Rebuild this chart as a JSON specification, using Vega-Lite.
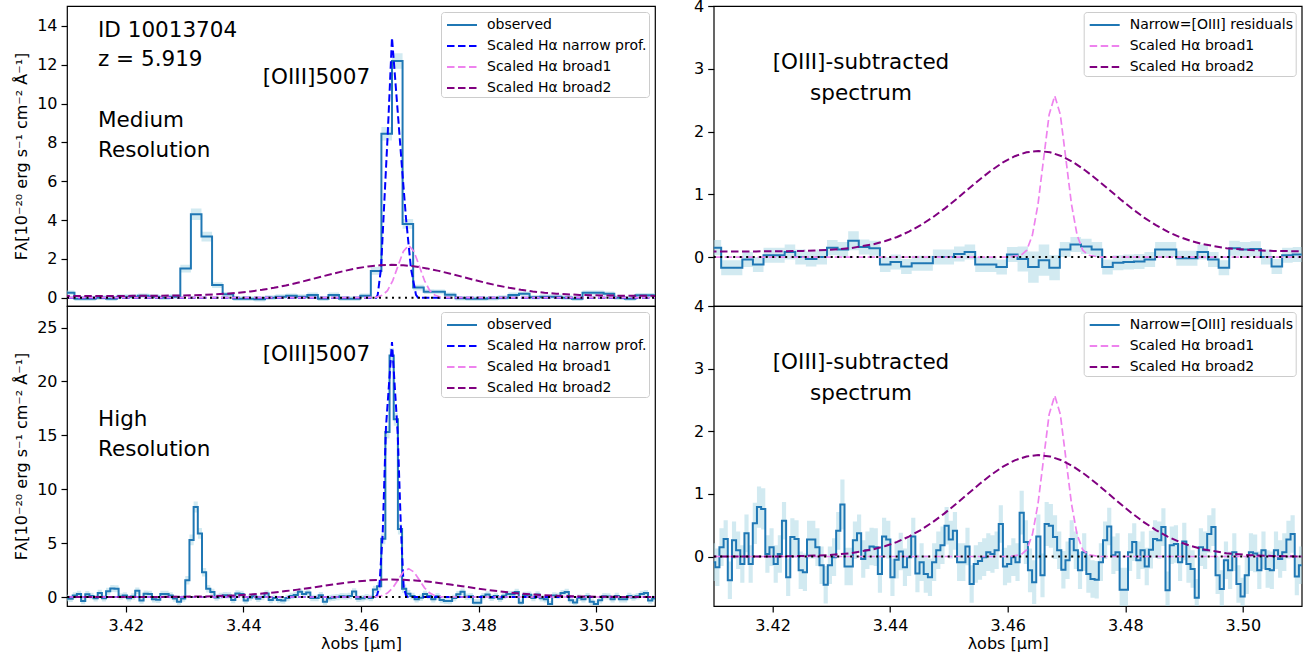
{
"$schema": "https://vega.github.io/schema/vega-lite/v6.json",
"background": "white",
"padding": {"left": 12, "top": -3, "right": 5, "bottom": 5},
"config": {
  "font": "DejaVu Sans",
  "view": {"stroke": "#000000", "strokeWidth": 1.2},
  "axis": {"domain": false, "grid": false, "labelFont": "DejaVu Sans", "labelFontSize": 16, "labelColor": "#000000", "tickColor": "#000000", "tickSize": 6, "tickWidth": 1.2, "titleFont": "DejaVu Sans", "titleFontSize": 16, "titleFontWeight": "normal", "titleColor": "#000000"},
  "axisY": {"labelPadding": 4},
  "axisX": {"labelPadding": 5, "titlePadding": 2},
  "legend": {"orient": "top-right", "offset": 6, "padding": 2, "rowPadding": 3, "labelFont": "DejaVu Sans", "labelFontSize": 14, "labelColor": "#000000", "labelLimit": 400, "fillColor": "rgba(255,255,255,0.8)", "strokeColor": "#cccccc", "cornerRadius": 3, "symbolSize": 400, "symbolStrokeWidth": 2, "symbolOffset": 8, "labelOffset": 14}
},
"datasets": {
"oM": [
{"lam":3.40857,"f":0.2,"lo":0.08,"hi":0.32},{"lam":3.41037,"f":0.25,"lo":0.13,"hi":0.37},{"lam":3.41217,"f":-0.05,"lo":-0.17,"hi":0.07},{"lam":3.41397,"f":-0.05,"lo":-0.17,"hi":0.07},{"lam":3.41577,"f":0,"lo":-0.12,"hi":0.12},{"lam":3.41757,"f":-0.05,"lo":-0.17,"hi":0.07},{"lam":3.41937,"f":0.05,"lo":-0.07,"hi":0.17},{"lam":3.42117,"f":0.05,"lo":-0.07,"hi":0.17},{"lam":3.42297,"f":0.1,"lo":-0.02,"hi":0.22},{"lam":3.42477,"f":0.05,"lo":-0.07,"hi":0.17},{"lam":3.42657,"f":0,"lo":-0.12,"hi":0.12},{"lam":3.42837,"f":0.05,"lo":-0.07,"hi":0.17},{"lam":3.43017,"f":1.5,"lo":1.3,"hi":1.7},{"lam":3.43197,"f":4.3,"lo":4.0,"hi":4.6},{"lam":3.43377,"f":3.15,"lo":2.9,"hi":3.4},{"lam":3.43557,"f":0.65,"lo":0.5,"hi":0.8},{"lam":3.43737,"f":0.17,"lo":0.05,"hi":0.29},{"lam":3.43917,"f":-0.05,"lo":-0.17,"hi":0.07},{"lam":3.44097,"f":-0.05,"lo":-0.17,"hi":0.07},{"lam":3.44277,"f":-0.08,"lo":-0.2,"hi":0.04},{"lam":3.44457,"f":0,"lo":-0.12,"hi":0.12},{"lam":3.44637,"f":0.05,"lo":-0.07,"hi":0.17},{"lam":3.44817,"f":0.1,"lo":-0.02,"hi":0.22},{"lam":3.44997,"f":0.05,"lo":-0.07,"hi":0.17},{"lam":3.45177,"f":0.14,"lo":0.02,"hi":0.26},{"lam":3.45357,"f":-0.05,"lo":-0.17,"hi":0.07},{"lam":3.45537,"f":0.14,"lo":0.02,"hi":0.26},{"lam":3.45717,"f":-0.05,"lo":-0.17,"hi":0.07},{"lam":3.45897,"f":-0.05,"lo":-0.17,"hi":0.07},{"lam":3.46077,"f":0.1,"lo":-0.02,"hi":0.22},{"lam":3.46257,"f":1.38,"lo":1.18,"hi":1.58},{"lam":3.46437,"f":8.45,"lo":8.1,"hi":8.8},{"lam":3.46617,"f":12.2,"lo":11.8,"hi":12.6},{"lam":3.46797,"f":3.8,"lo":3.55,"hi":4.05},{"lam":3.46977,"f":0.52,"lo":0.37,"hi":0.67},{"lam":3.47157,"f":0.31,"lo":0.19,"hi":0.43},{"lam":3.47337,"f":0.3,"lo":0.18,"hi":0.42},{"lam":3.47517,"f":0.15,"lo":0.03,"hi":0.27},{"lam":3.47697,"f":-0.03,"lo":-0.15,"hi":0.09},{"lam":3.47877,"f":-0.05,"lo":-0.17,"hi":0.07},{"lam":3.48057,"f":-0.05,"lo":-0.17,"hi":0.07},{"lam":3.48237,"f":-0.03,"lo":-0.15,"hi":0.09},{"lam":3.48417,"f":0,"lo":-0.12,"hi":0.12},{"lam":3.48597,"f":0.14,"lo":0.02,"hi":0.26},{"lam":3.48777,"f":0.2,"lo":0.08,"hi":0.32},{"lam":3.48957,"f":0.02,"lo":-0.1,"hi":0.14},{"lam":3.49137,"f":0.05,"lo":-0.07,"hi":0.17},{"lam":3.49317,"f":0.05,"lo":-0.07,"hi":0.17},{"lam":3.49497,"f":0,"lo":-0.12,"hi":0.12},{"lam":3.49677,"f":-0.05,"lo":-0.17,"hi":0.07},{"lam":3.49857,"f":0.25,"lo":0.13,"hi":0.37},{"lam":3.50037,"f":0.25,"lo":0.13,"hi":0.37},{"lam":3.50217,"f":0.2,"lo":0.08,"hi":0.32},{"lam":3.50397,"f":0,"lo":-0.12,"hi":0.12},{"lam":3.50577,"f":-0.05,"lo":-0.17,"hi":0.07},{"lam":3.50757,"f":0.12,"lo":0,"hi":0.24},{"lam":3.50937,"f":0.12,"lo":0,"hi":0.24},{"lam":3.51117,"f":0.12,"lo":0,"hi":0.24}
],
"rM": [
{"lam":3.40857,"f":0.15,"lo":0.03,"hi":0.27},{"lam":3.41037,"f":0.15,"lo":0.03,"hi":0.27},{"lam":3.41217,"f":-0.17,"lo":-0.29,"hi":-0.05},{"lam":3.41397,"f":-0.17,"lo":-0.29,"hi":-0.05},{"lam":3.41577,"f":-0.04,"lo":-0.16,"hi":0.08},{"lam":3.41757,"f":-0.12,"lo":-0.24,"hi":0},{"lam":3.41937,"f":0.03,"lo":-0.09,"hi":0.15},{"lam":3.42117,"f":0.03,"lo":-0.09,"hi":0.15},{"lam":3.42297,"f":0.08,"lo":-0.04,"hi":0.2},{"lam":3.42477,"f":0,"lo":-0.12,"hi":0.12},{"lam":3.42657,"f":-0.03,"lo":-0.15,"hi":0.09},{"lam":3.42837,"f":0,"lo":-0.12,"hi":0.12},{"lam":3.43017,"f":0.15,"lo":0.03,"hi":0.27},{"lam":3.43197,"f":0.12,"lo":0,"hi":0.24},{"lam":3.43377,"f":0.26,"lo":0.11,"hi":0.41},{"lam":3.43557,"f":0.16,"lo":0.04,"hi":0.28},{"lam":3.43737,"f":0.14,"lo":0.02,"hi":0.26},{"lam":3.43917,"f":-0.12,"lo":-0.24,"hi":0},{"lam":3.44097,"f":-0.08,"lo":-0.2,"hi":0.04},{"lam":3.44277,"f":-0.15,"lo":-0.27,"hi":-0.03},{"lam":3.44457,"f":-0.1,"lo":-0.22,"hi":0.02},{"lam":3.44637,"f":-0.1,"lo":-0.22,"hi":0.02},{"lam":3.44817,"f":0,"lo":-0.12,"hi":0.12},{"lam":3.44997,"f":0,"lo":-0.12,"hi":0.12},{"lam":3.45177,"f":0.05,"lo":-0.07,"hi":0.17},{"lam":3.45357,"f":0.08,"lo":-0.04,"hi":0.2},{"lam":3.45537,"f":-0.12,"lo":-0.24,"hi":0},{"lam":3.45717,"f":-0.12,"lo":-0.24,"hi":0},{"lam":3.45897,"f":-0.16,"lo":-0.28,"hi":-0.04},{"lam":3.46077,"f":0.04,"lo":-0.08,"hi":0.16},{"lam":3.46257,"f":-0.03,"lo":-0.23,"hi":0.17},{"lam":3.46437,"f":-0.16,"lo":-0.41,"hi":0.09},{"lam":3.46617,"f":-0.05,"lo":-0.3,"hi":0.2},{"lam":3.46797,"f":-0.17,"lo":-0.37,"hi":0.03},{"lam":3.46977,"f":0.12,"lo":0,"hi":0.24},{"lam":3.47157,"f":0.2,"lo":0.08,"hi":0.32},{"lam":3.47337,"f":0.17,"lo":0.05,"hi":0.29},{"lam":3.47517,"f":0.12,"lo":0,"hi":0.24},{"lam":3.47697,"f":-0.16,"lo":-0.28,"hi":-0.04},{"lam":3.47877,"f":-0.09,"lo":-0.21,"hi":0.03},{"lam":3.48057,"f":-0.08,"lo":-0.2,"hi":0.04},{"lam":3.48237,"f":-0.07,"lo":-0.19,"hi":0.05},{"lam":3.48417,"f":-0.04,"lo":-0.16,"hi":0.08},{"lam":3.48597,"f":0.12,"lo":0,"hi":0.24},{"lam":3.48777,"f":0.12,"lo":0,"hi":0.24},{"lam":3.48957,"f":-0.02,"lo":-0.14,"hi":0.1},{"lam":3.49137,"f":-0.02,"lo":-0.14,"hi":0.1},{"lam":3.49317,"f":0.08,"lo":-0.04,"hi":0.2},{"lam":3.49497,"f":-0.04,"lo":-0.16,"hi":0.08},{"lam":3.49677,"f":-0.17,"lo":-0.29,"hi":-0.05},{"lam":3.49857,"f":0.14,"lo":0.02,"hi":0.26},{"lam":3.50037,"f":0.12,"lo":0,"hi":0.24},{"lam":3.50217,"f":0.13,"lo":0.01,"hi":0.25},{"lam":3.50397,"f":0,"lo":-0.12,"hi":0.12},{"lam":3.50577,"f":-0.15,"lo":-0.27,"hi":-0.03},{"lam":3.50757,"f":0.03,"lo":-0.09,"hi":0.15},{"lam":3.50937,"f":0.04,"lo":-0.08,"hi":0.16},{"lam":3.51117,"f":0.04,"lo":-0.08,"hi":0.16}
],
"rH": [
{"lam":3.4092,"f":-0.09,"lo":-0.39,"hi":0.21},{"lam":3.40991,"f":-0.09,"lo":-0.39,"hi":0.21},{"lam":3.41062,"f":-0.17,"lo":-0.47,"hi":0.13},{"lam":3.41133,"f":0.15,"lo":-0.15,"hi":0.45},{"lam":3.41204,"f":0.28,"lo":-0.02,"hi":0.58},{"lam":3.41275,"f":-0.38,"lo":-0.68,"hi":-0.08},{"lam":3.41346,"f":0.26,"lo":-0.04,"hi":0.56},{"lam":3.41416,"f":0.1,"lo":-0.2,"hi":0.4},{"lam":3.41487,"f":-0.12,"lo":-0.42,"hi":0.18},{"lam":3.41558,"f":0.37,"lo":0.07,"hi":0.67},{"lam":3.41629,"f":-0.12,"lo":-0.42,"hi":0.18},{"lam":3.417,"f":0.53,"lo":0.2,"hi":0.86},{"lam":3.41771,"f":0.79,"lo":0.46,"hi":1.12},{"lam":3.41842,"f":0.76,"lo":0.43,"hi":1.09},{"lam":3.41913,"f":0.04,"lo":-0.26,"hi":0.34},{"lam":3.41984,"f":0.15,"lo":-0.15,"hi":0.45},{"lam":3.42055,"f":-0.12,"lo":-0.42,"hi":0.18},{"lam":3.42125,"f":0.04,"lo":-0.26,"hi":0.34},{"lam":3.42196,"f":0.57,"lo":0.27,"hi":0.87},{"lam":3.42267,"f":-0.33,"lo":-0.63,"hi":-0.03},{"lam":3.42338,"f":0.31,"lo":0.01,"hi":0.61},{"lam":3.42409,"f":0.28,"lo":-0.02,"hi":0.58},{"lam":3.4248,"f":-0.22,"lo":-0.52,"hi":0.08},{"lam":3.42551,"f":-0.25,"lo":-0.55,"hi":0.05},{"lam":3.42622,"f":0.27,"lo":-0.03,"hi":0.57},{"lam":3.42693,"f":0.27,"lo":-0.03,"hi":0.57},{"lam":3.42764,"f":0.15,"lo":-0.15,"hi":0.45},{"lam":3.42834,"f":-0.14,"lo":-0.44,"hi":0.16},{"lam":3.42905,"f":-0.45,"lo":-0.75,"hi":-0.15},{"lam":3.42976,"f":-0.14,"lo":-0.44,"hi":0.16},{"lam":3.43047,"f":-0.01,"lo":-0.31,"hi":0.29},{"lam":3.43118,"f":0.41,"lo":0.11,"hi":0.71},{"lam":3.43189,"f":0.83,"lo":0.43,"hi":1.23},{"lam":3.4326,"f":-0.16,"lo":-0.46,"hi":0.14},{"lam":3.43331,"f":-0.16,"lo":-0.46,"hi":0.14},{"lam":3.43402,"f":0.26,"lo":-0.04,"hi":0.56},{"lam":3.43473,"f":0.37,"lo":0.07,"hi":0.67},{"lam":3.43543,"f":-0.04,"lo":-0.34,"hi":0.26},{"lam":3.43614,"f":0.1,"lo":-0.2,"hi":0.4},{"lam":3.43685,"f":0.16,"lo":-0.14,"hi":0.46},{"lam":3.43756,"f":0.15,"lo":-0.15,"hi":0.45},{"lam":3.43827,"f":-0.28,"lo":-0.58,"hi":0.02},{"lam":3.43898,"f":0.32,"lo":0.02,"hi":0.62},{"lam":3.43969,"f":0.27,"lo":-0.03,"hi":0.57},{"lam":3.4404,"f":-0.33,"lo":-0.63,"hi":-0.03},{"lam":3.44111,"f":-0.05,"lo":-0.35,"hi":0.25},{"lam":3.44182,"f":0.08,"lo":-0.22,"hi":0.38},{"lam":3.44252,"f":-0.17,"lo":-0.47,"hi":0.13},{"lam":3.44323,"f":-0.01,"lo":-0.31,"hi":0.29},{"lam":3.44394,"f":0.32,"lo":0.02,"hi":0.62},{"lam":3.44465,"f":-0.27,"lo":-0.57,"hi":0.03},{"lam":3.44536,"f":-0.09,"lo":-0.39,"hi":0.21},{"lam":3.44607,"f":-0.28,"lo":-0.58,"hi":0.02},{"lam":3.44678,"f":-0.33,"lo":-0.63,"hi":-0.03},{"lam":3.44749,"f":-0.09,"lo":-0.39,"hi":0.21},{"lam":3.4482,"f":0.1,"lo":-0.2,"hi":0.4},{"lam":3.44891,"f":0.18,"lo":-0.12,"hi":0.48},{"lam":3.44961,"f":0.49,"lo":0.19,"hi":0.79},{"lam":3.45032,"f":0.27,"lo":-0.03,"hi":0.57},{"lam":3.45103,"f":0.41,"lo":0.11,"hi":0.71},{"lam":3.45174,"f":-0.09,"lo":-0.39,"hi":0.21},{"lam":3.45245,"f":-0.09,"lo":-0.39,"hi":0.21},{"lam":3.45316,"f":0.16,"lo":-0.14,"hi":0.46},{"lam":3.45387,"f":-0.44,"lo":-0.74,"hi":-0.14},{"lam":3.45458,"f":-0.12,"lo":-0.42,"hi":0.18},{"lam":3.45529,"f":-0.07,"lo":-0.37,"hi":0.23},{"lam":3.456,"f":-0.01,"lo":-0.31,"hi":0.29},{"lam":3.4567,"f":0.07,"lo":-0.23,"hi":0.37},{"lam":3.45741,"f":0.04,"lo":-0.26,"hi":0.34},{"lam":3.45812,"f":0.1,"lo":-0.2,"hi":0.4},{"lam":3.45883,"f":0.52,"lo":0.22,"hi":0.82},{"lam":3.45954,"f":-0.16,"lo":-0.46,"hi":0.14},{"lam":3.46025,"f":-0.12,"lo":-0.42,"hi":0.18},{"lam":3.46096,"f":-0.01,"lo":-0.31,"hi":0.29},{"lam":3.46167,"f":-0.09,"lo":-0.39,"hi":0.21},{"lam":3.46238,"f":0.7,"lo":0.35,"hi":1.05},{"lam":3.46309,"f":0.23,"lo":-0.12,"hi":0.58},{"lam":3.46379,"f":-0.22,"lo":-0.57,"hi":0.13},{"lam":3.4645,"f":-0.41,"lo":-0.76,"hi":-0.06},{"lam":3.46521,"f":0.32,"lo":-0.03,"hi":0.67},{"lam":3.46592,"f":-0.3,"lo":-0.65,"hi":0.05},{"lam":3.46663,"f":0.52,"lo":0.17,"hi":0.87},{"lam":3.46734,"f":0.49,"lo":0.14,"hi":0.84},{"lam":3.46805,"f":0.31,"lo":-0.04,"hi":0.66},{"lam":3.46876,"f":0.1,"lo":-0.2,"hi":0.4},{"lam":3.46947,"f":-0.21,"lo":-0.51,"hi":0.09},{"lam":3.47018,"f":-0.06,"lo":-0.36,"hi":0.24},{"lam":3.47088,"f":0.28,"lo":-0.02,"hi":0.58},{"lam":3.47159,"f":0.1,"lo":-0.2,"hi":0.4},{"lam":3.4723,"f":-0.22,"lo":-0.52,"hi":0.08},{"lam":3.47301,"f":0.07,"lo":-0.23,"hi":0.37},{"lam":3.47372,"f":-0.28,"lo":-0.58,"hi":0.02},{"lam":3.47443,"f":-0.36,"lo":-0.66,"hi":-0.06},{"lam":3.47514,"f":-0.37,"lo":-0.67,"hi":-0.07},{"lam":3.47585,"f":-0.09,"lo":-0.39,"hi":0.21},{"lam":3.47656,"f":0.26,"lo":-0.04,"hi":0.56},{"lam":3.47727,"f":0.48,"lo":0.18,"hi":0.78},{"lam":3.47797,"f":0.02,"lo":-0.28,"hi":0.32},{"lam":3.47868,"f":0.07,"lo":-0.23,"hi":0.37},{"lam":3.47939,"f":-0.53,"lo":-0.88,"hi":-0.18},{"lam":3.4801,"f":-0.53,"lo":-0.88,"hi":-0.18},{"lam":3.48081,"f":0.07,"lo":-0.23,"hi":0.37},{"lam":3.48152,"f":0.23,"lo":-0.07,"hi":0.53},{"lam":3.48223,"f":-0.06,"lo":-0.36,"hi":0.24},{"lam":3.48294,"f":0.1,"lo":-0.2,"hi":0.4},{"lam":3.48365,"f":-0.16,"lo":-0.46,"hi":0.14},{"lam":3.48436,"f":0.11,"lo":-0.19,"hi":0.41},{"lam":3.48506,"f":0.28,"lo":-0.02,"hi":0.58},{"lam":3.48577,"f":0.26,"lo":-0.04,"hi":0.56},{"lam":3.48648,"f":0.47,"lo":0.17,"hi":0.77},{"lam":3.48719,"f":-0.54,"lo":-0.84,"hi":-0.24},{"lam":3.4879,"f":0.18,"lo":-0.12,"hi":0.48},{"lam":3.48861,"f":0.2,"lo":-0.1,"hi":0.5},{"lam":3.48932,"f":-0.09,"lo":-0.39,"hi":0.21},{"lam":3.49003,"f":0.24,"lo":-0.06,"hi":0.54},{"lam":3.49074,"f":-0.12,"lo":-0.42,"hi":0.18},{"lam":3.49145,"f":-0.2,"lo":-0.5,"hi":0.1},{"lam":3.49215,"f":-0.66,"lo":-0.96,"hi":-0.36},{"lam":3.49286,"f":0.15,"lo":-0.15,"hi":0.45},{"lam":3.49357,"f":0.1,"lo":-0.2,"hi":0.4},{"lam":3.49428,"f":0.36,"lo":0.06,"hi":0.66},{"lam":3.49499,"f":0.47,"lo":0.17,"hi":0.77},{"lam":3.4957,"f":-0.3,"lo":-0.6,"hi":0},{"lam":3.49641,"f":-0.52,"lo":-0.82,"hi":-0.22},{"lam":3.49712,"f":-0.06,"lo":-0.36,"hi":0.24},{"lam":3.49783,"f":-0.22,"lo":-0.52,"hi":0.08},{"lam":3.49854,"f":0.07,"lo":-0.23,"hi":0.37},{"lam":3.49924,"f":-0.44,"lo":-0.74,"hi":-0.14},{"lam":3.49995,"f":-0.64,"lo":-0.94,"hi":-0.34},{"lam":3.50066,"f":-0.3,"lo":-0.6,"hi":0},{"lam":3.50137,"f":0.07,"lo":-0.23,"hi":0.37},{"lam":3.50208,"f":0.05,"lo":-0.25,"hi":0.35},{"lam":3.50279,"f":-0.22,"lo":-0.52,"hi":0.08},{"lam":3.5035,"f":0.1,"lo":-0.2,"hi":0.4},{"lam":3.50421,"f":-0.2,"lo":-0.5,"hi":0.1},{"lam":3.50492,"f":-0.22,"lo":-0.52,"hi":0.08},{"lam":3.50563,"f":0.1,"lo":-0.2,"hi":0.4},{"lam":3.50633,"f":-0.04,"lo":-0.34,"hi":0.26},{"lam":3.50704,"f":0.07,"lo":-0.23,"hi":0.37},{"lam":3.50775,"f":0.27,"lo":-0.03,"hi":0.57},{"lam":3.50846,"f":0.36,"lo":0.06,"hi":0.66},{"lam":3.50917,"f":-0.32,"lo":-0.62,"hi":-0.02},{"lam":3.50988,"f":-0.14,"lo":-0.44,"hi":0.16},{"lam":3.51059,"f":-0.14,"lo":-0.44,"hi":0.16}
],
"oH": [
{"lam":3.4092,"f":-0.09,"lo":-0.39,"hi":0.21},{"lam":3.40991,"f":-0.09,"lo":-0.39,"hi":0.21},{"lam":3.41062,"f":-0.17,"lo":-0.47,"hi":0.13},{"lam":3.41133,"f":0.15,"lo":-0.15,"hi":0.45},{"lam":3.41204,"f":0.28,"lo":-0.02,"hi":0.58},{"lam":3.41275,"f":-0.38,"lo":-0.68,"hi":-0.08},{"lam":3.41346,"f":0.26,"lo":-0.04,"hi":0.56},{"lam":3.41416,"f":0.1,"lo":-0.2,"hi":0.4},{"lam":3.41487,"f":-0.12,"lo":-0.42,"hi":0.18},{"lam":3.41558,"f":0.37,"lo":0.07,"hi":0.67},{"lam":3.41629,"f":-0.12,"lo":-0.42,"hi":0.18},{"lam":3.417,"f":0.53,"lo":0.2,"hi":0.86},{"lam":3.41771,"f":0.79,"lo":0.46,"hi":1.12},{"lam":3.41842,"f":0.76,"lo":0.43,"hi":1.09},{"lam":3.41913,"f":0.04,"lo":-0.26,"hi":0.34},{"lam":3.41984,"f":0.15,"lo":-0.15,"hi":0.45},{"lam":3.42055,"f":-0.12,"lo":-0.42,"hi":0.18},{"lam":3.42125,"f":0.04,"lo":-0.26,"hi":0.34},{"lam":3.42196,"f":0.57,"lo":0.27,"hi":0.87},{"lam":3.42267,"f":-0.33,"lo":-0.63,"hi":-0.03},{"lam":3.42338,"f":0.31,"lo":0.01,"hi":0.61},{"lam":3.42409,"f":0.28,"lo":-0.02,"hi":0.58},{"lam":3.4248,"f":-0.22,"lo":-0.52,"hi":0.08},{"lam":3.42551,"f":-0.25,"lo":-0.55,"hi":0.05},{"lam":3.42622,"f":0.27,"lo":-0.03,"hi":0.57},{"lam":3.42693,"f":0.27,"lo":-0.03,"hi":0.57},{"lam":3.42764,"f":0.15,"lo":-0.15,"hi":0.45},{"lam":3.42834,"f":-0.14,"lo":-0.44,"hi":0.16},{"lam":3.42905,"f":-0.45,"lo":-0.75,"hi":-0.15},{"lam":3.42976,"f":-0.14,"lo":-0.44,"hi":0.16},{"lam":3.43047,"f":1.55,"lo":1.15,"hi":1.95},{"lam":3.43118,"f":5.3,"lo":4.8,"hi":5.8},{"lam":3.43189,"f":8.35,"lo":7.85,"hi":8.85},{"lam":3.4326,"f":5.9,"lo":5.4,"hi":6.4},{"lam":3.43331,"f":2.3,"lo":1.9,"hi":2.7},{"lam":3.43402,"f":0.77,"lo":0.42,"hi":1.12},{"lam":3.43473,"f":0.46,"lo":0.16,"hi":0.76},{"lam":3.43543,"f":-0.04,"lo":-0.34,"hi":0.26},{"lam":3.43614,"f":0.1,"lo":-0.2,"hi":0.4},{"lam":3.43685,"f":0.16,"lo":-0.14,"hi":0.46},{"lam":3.43756,"f":0.15,"lo":-0.15,"hi":0.45},{"lam":3.43827,"f":-0.28,"lo":-0.58,"hi":0.02},{"lam":3.43898,"f":0.32,"lo":0.02,"hi":0.62},{"lam":3.43969,"f":0.27,"lo":-0.03,"hi":0.57},{"lam":3.4404,"f":-0.33,"lo":-0.63,"hi":-0.03},{"lam":3.44111,"f":-0.05,"lo":-0.35,"hi":0.25},{"lam":3.44182,"f":0.08,"lo":-0.22,"hi":0.38},{"lam":3.44252,"f":-0.17,"lo":-0.47,"hi":0.13},{"lam":3.44323,"f":-0.01,"lo":-0.31,"hi":0.29},{"lam":3.44394,"f":0.32,"lo":0.02,"hi":0.62},{"lam":3.44465,"f":-0.27,"lo":-0.57,"hi":0.03},{"lam":3.44536,"f":-0.09,"lo":-0.39,"hi":0.21},{"lam":3.44607,"f":-0.28,"lo":-0.58,"hi":0.02},{"lam":3.44678,"f":-0.33,"lo":-0.63,"hi":-0.03},{"lam":3.44749,"f":-0.09,"lo":-0.39,"hi":0.21},{"lam":3.4482,"f":0.1,"lo":-0.2,"hi":0.4},{"lam":3.44891,"f":0.18,"lo":-0.12,"hi":0.48},{"lam":3.44961,"f":0.49,"lo":0.19,"hi":0.79},{"lam":3.45032,"f":0.27,"lo":-0.03,"hi":0.57},{"lam":3.45103,"f":0.41,"lo":0.11,"hi":0.71},{"lam":3.45174,"f":-0.09,"lo":-0.39,"hi":0.21},{"lam":3.45245,"f":-0.09,"lo":-0.39,"hi":0.21},{"lam":3.45316,"f":0.16,"lo":-0.14,"hi":0.46},{"lam":3.45387,"f":-0.44,"lo":-0.74,"hi":-0.14},{"lam":3.45458,"f":-0.12,"lo":-0.42,"hi":0.18},{"lam":3.45529,"f":-0.07,"lo":-0.37,"hi":0.23},{"lam":3.456,"f":-0.01,"lo":-0.31,"hi":0.29},{"lam":3.4567,"f":0.07,"lo":-0.23,"hi":0.37},{"lam":3.45741,"f":0.04,"lo":-0.26,"hi":0.34},{"lam":3.45812,"f":0.1,"lo":-0.2,"hi":0.4},{"lam":3.45883,"f":0.52,"lo":0.22,"hi":0.82},{"lam":3.45954,"f":-0.16,"lo":-0.46,"hi":0.14},{"lam":3.46025,"f":-0.12,"lo":-0.42,"hi":0.18},{"lam":3.46096,"f":-0.01,"lo":-0.31,"hi":0.29},{"lam":3.46167,"f":-0.09,"lo":-0.39,"hi":0.21},{"lam":3.46238,"f":0.7,"lo":0.35,"hi":1.05},{"lam":3.46309,"f":1.0,"lo":0.6,"hi":1.4},{"lam":3.46379,"f":5.4,"lo":4.9,"hi":5.9},{"lam":3.4645,"f":15.3,"lo":14.7,"hi":15.9},{"lam":3.46521,"f":22.4,"lo":21.7,"hi":23.1},{"lam":3.46592,"f":16.5,"lo":15.9,"hi":17.1},{"lam":3.46663,"f":6.3,"lo":5.8,"hi":6.8},{"lam":3.46734,"f":0.77,"lo":0.37,"hi":1.17},{"lam":3.46805,"f":0.3,"lo":-0.05,"hi":0.65},{"lam":3.46876,"f":0.1,"lo":-0.2,"hi":0.4},{"lam":3.46947,"f":-0.21,"lo":-0.51,"hi":0.09},{"lam":3.47018,"f":-0.06,"lo":-0.36,"hi":0.24},{"lam":3.47088,"f":0.28,"lo":-0.02,"hi":0.58},{"lam":3.47159,"f":0.1,"lo":-0.2,"hi":0.4},{"lam":3.4723,"f":-0.22,"lo":-0.52,"hi":0.08},{"lam":3.47301,"f":0.07,"lo":-0.23,"hi":0.37},{"lam":3.47372,"f":-0.28,"lo":-0.58,"hi":0.02},{"lam":3.47443,"f":-0.36,"lo":-0.66,"hi":-0.06},{"lam":3.47514,"f":-0.37,"lo":-0.67,"hi":-0.07},{"lam":3.47585,"f":-0.09,"lo":-0.39,"hi":0.21},{"lam":3.47656,"f":0.26,"lo":-0.04,"hi":0.56},{"lam":3.47727,"f":0.48,"lo":0.18,"hi":0.78},{"lam":3.47797,"f":0.02,"lo":-0.28,"hi":0.32},{"lam":3.47868,"f":0.07,"lo":-0.23,"hi":0.37},{"lam":3.47939,"f":-0.53,"lo":-0.88,"hi":-0.18},{"lam":3.4801,"f":-0.53,"lo":-0.88,"hi":-0.18},{"lam":3.48081,"f":0.07,"lo":-0.23,"hi":0.37},{"lam":3.48152,"f":0.23,"lo":-0.07,"hi":0.53},{"lam":3.48223,"f":-0.06,"lo":-0.36,"hi":0.24},{"lam":3.48294,"f":0.1,"lo":-0.2,"hi":0.4},{"lam":3.48365,"f":-0.16,"lo":-0.46,"hi":0.14},{"lam":3.48436,"f":0.11,"lo":-0.19,"hi":0.41},{"lam":3.48506,"f":0.28,"lo":-0.02,"hi":0.58},{"lam":3.48577,"f":0.26,"lo":-0.04,"hi":0.56},{"lam":3.48648,"f":0.47,"lo":0.17,"hi":0.77},{"lam":3.48719,"f":-0.54,"lo":-0.84,"hi":-0.24},{"lam":3.4879,"f":0.18,"lo":-0.12,"hi":0.48},{"lam":3.48861,"f":0.2,"lo":-0.1,"hi":0.5},{"lam":3.48932,"f":-0.09,"lo":-0.39,"hi":0.21},{"lam":3.49003,"f":0.24,"lo":-0.06,"hi":0.54},{"lam":3.49074,"f":-0.12,"lo":-0.42,"hi":0.18},{"lam":3.49145,"f":-0.2,"lo":-0.5,"hi":0.1},{"lam":3.49215,"f":-0.66,"lo":-0.96,"hi":-0.36},{"lam":3.49286,"f":0.15,"lo":-0.15,"hi":0.45},{"lam":3.49357,"f":0.1,"lo":-0.2,"hi":0.4},{"lam":3.49428,"f":0.36,"lo":0.06,"hi":0.66},{"lam":3.49499,"f":0.47,"lo":0.17,"hi":0.77},{"lam":3.4957,"f":-0.3,"lo":-0.6,"hi":0},{"lam":3.49641,"f":-0.52,"lo":-0.82,"hi":-0.22},{"lam":3.49712,"f":-0.06,"lo":-0.36,"hi":0.24},{"lam":3.49783,"f":-0.22,"lo":-0.52,"hi":0.08},{"lam":3.49854,"f":0.07,"lo":-0.23,"hi":0.37},{"lam":3.49924,"f":-0.44,"lo":-0.74,"hi":-0.14},{"lam":3.49995,"f":-0.64,"lo":-0.94,"hi":-0.34},{"lam":3.50066,"f":-0.3,"lo":-0.6,"hi":0},{"lam":3.50137,"f":0.07,"lo":-0.23,"hi":0.37},{"lam":3.50208,"f":0.05,"lo":-0.25,"hi":0.35},{"lam":3.50279,"f":-0.22,"lo":-0.52,"hi":0.08},{"lam":3.5035,"f":0.1,"lo":-0.2,"hi":0.4},{"lam":3.50421,"f":-0.2,"lo":-0.5,"hi":0.1},{"lam":3.50492,"f":-0.22,"lo":-0.52,"hi":0.08},{"lam":3.50563,"f":0.1,"lo":-0.2,"hi":0.4},{"lam":3.50633,"f":-0.04,"lo":-0.34,"hi":0.26},{"lam":3.50704,"f":0.07,"lo":-0.23,"hi":0.37},{"lam":3.50775,"f":0.27,"lo":-0.03,"hi":0.57},{"lam":3.50846,"f":0.36,"lo":0.06,"hi":0.66},{"lam":3.50917,"f":-0.32,"lo":-0.62,"hi":-0.02},{"lam":3.50988,"f":-0.14,"lo":-0.44,"hi":0.16},{"lam":3.51059,"f":-0.14,"lo":-0.44,"hi":0.16}
],
"nM": [{"lam":3.41,"f":0},{"lam":3.4626,"f":0},{"lam":3.46284,"f":0.14},{"lam":3.4634,"f":1.5},{"lam":3.46397,"f":4.96},{"lam":3.46454,"f":8.4},{"lam":3.46527,"f":13.4},{"lam":3.46624,"f":9.6},{"lam":3.46697,"f":6.7},{"lam":3.46765,"f":4.1},{"lam":3.4685,"f":1.5},{"lam":3.46935,"f":0.14},{"lam":3.4697,"f":0},{"lam":3.51,"f":0}],
"nH": [{"lam":3.41,"f":0},{"lam":3.4624,"f":0},{"lam":3.46272,"f":0.15},{"lam":3.46312,"f":0.93},{"lam":3.46369,"f":5.9},{"lam":3.46425,"f":15.8},{"lam":3.46527,"f":23.65},{"lam":3.46624,"f":15.2},{"lam":3.4668,"f":6.2},{"lam":3.46726,"f":0.93},{"lam":3.46765,"f":0.15},{"lam":3.468,"f":0},{"lam":3.51,"f":0}],
"b1TL": [{"lam":3.41,"f":0},{"lam":3.4609,"f":0},{"lam":3.4627,"f":0.03},{"lam":3.4636,"f":0.12},{"lam":3.4645,"f":0.36},{"lam":3.4654,"f":0.88},{"lam":3.4663,"f":1.64},{"lam":3.4672,"f":2.38},{"lam":3.4681,"f":2.7},{"lam":3.469,"f":2.38},{"lam":3.4699,"f":1.64},{"lam":3.4708,"f":0.88},{"lam":3.4717,"f":0.36},{"lam":3.4726,"f":0.12},{"lam":3.4735,"f":0.03},{"lam":3.4753,"f":0},{"lam":3.51,"f":0}],
"b1BL": [{"lam":3.41,"f":0},{"lam":3.4609,"f":0},{"lam":3.4627,"f":0.03},{"lam":3.4636,"f":0.12},{"lam":3.4645,"f":0.36},{"lam":3.4654,"f":0.85},{"lam":3.4663,"f":1.6},{"lam":3.4672,"f":2.32},{"lam":3.4681,"f":2.63},{"lam":3.469,"f":2.32},{"lam":3.4699,"f":1.6},{"lam":3.4708,"f":0.85},{"lam":3.4717,"f":0.36},{"lam":3.4726,"f":0.12},{"lam":3.4735,"f":0.03},{"lam":3.4753,"f":0},{"lam":3.51,"f":0}],
"b1R": [{"lam":3.41,"f":0},{"lam":3.4604,"f":0},{"lam":3.4623,"f":0.03},{"lam":3.46325,"f":0.11},{"lam":3.4642,"f":0.35},{"lam":3.46515,"f":0.84},{"lam":3.4661,"f":1.56},{"lam":3.46705,"f":2.27},{"lam":3.468,"f":2.57},{"lam":3.46895,"f":2.27},{"lam":3.4699,"f":1.56},{"lam":3.47085,"f":0.84},{"lam":3.4718,"f":0.35},{"lam":3.47275,"f":0.11},{"lam":3.4737,"f":0.03},{"lam":3.4756,"f":0},{"lam":3.51,"f":0}],
"b2T": [{"lam":3.4092,"f":0.09},{"lam":3.4132,"f":0.09},{"lam":3.4172,"f":0.09},{"lam":3.4212,"f":0.092},{"lam":3.4252,"f":0.098},{"lam":3.4292,"f":0.111},{"lam":3.4332,"f":0.141},{"lam":3.4372,"f":0.205},{"lam":3.4392,"f":0.255},{"lam":3.4412,"f":0.32},{"lam":3.4432,"f":0.405},{"lam":3.4452,"f":0.508},{"lam":3.4472,"f":0.629},{"lam":3.4492,"f":0.767},{"lam":3.4512,"f":0.918},{"lam":3.4532,"f":1.076},{"lam":3.4552,"f":1.233},{"lam":3.4572,"f":1.38},{"lam":3.4592,"f":1.508},{"lam":3.4612,"f":1.607},{"lam":3.4632,"f":1.669},{"lam":3.4652,"f":1.69},{"lam":3.4672,"f":1.669},{"lam":3.4692,"f":1.607},{"lam":3.4712,"f":1.508},{"lam":3.4732,"f":1.38},{"lam":3.4752,"f":1.233},{"lam":3.4772,"f":1.076},{"lam":3.4792,"f":0.918},{"lam":3.4812,"f":0.767},{"lam":3.4832,"f":0.629},{"lam":3.4852,"f":0.508},{"lam":3.4872,"f":0.405},{"lam":3.4892,"f":0.32},{"lam":3.4912,"f":0.255},{"lam":3.4932,"f":0.205},{"lam":3.4972,"f":0.141},{"lam":3.5012,"f":0.111},{"lam":3.5052,"f":0.098},{"lam":3.5092,"f":0.092},{"lam":3.5132,"f":0.09}],
"b2B": [{"lam":3.4092,"f":0},{"lam":3.4132,"f":0},{"lam":3.4172,"f":0},{"lam":3.4212,"f":0.002},{"lam":3.4252,"f":0.008},{"lam":3.4292,"f":0.021},{"lam":3.4332,"f":0.052},{"lam":3.4372,"f":0.117},{"lam":3.4392,"f":0.167},{"lam":3.4412,"f":0.233},{"lam":3.4432,"f":0.319},{"lam":3.4452,"f":0.423},{"lam":3.4472,"f":0.546},{"lam":3.4492,"f":0.685},{"lam":3.4512,"f":0.839},{"lam":3.4532,"f":0.998},{"lam":3.4552,"f":1.158},{"lam":3.4572,"f":1.306},{"lam":3.4592,"f":1.435},{"lam":3.4612,"f":1.536},{"lam":3.4632,"f":1.598},{"lam":3.4652,"f":1.62},{"lam":3.4672,"f":1.598},{"lam":3.4692,"f":1.536},{"lam":3.4712,"f":1.435},{"lam":3.4732,"f":1.306},{"lam":3.4752,"f":1.158},{"lam":3.4772,"f":0.998},{"lam":3.4792,"f":0.839},{"lam":3.4812,"f":0.685},{"lam":3.4832,"f":0.546},{"lam":3.4852,"f":0.423},{"lam":3.4872,"f":0.319},{"lam":3.4892,"f":0.233},{"lam":3.4912,"f":0.167},{"lam":3.4932,"f":0.117},{"lam":3.4972,"f":0.052},{"lam":3.5012,"f":0.021},{"lam":3.5052,"f":0.008},{"lam":3.5092,"f":0.002},{"lam":3.5132,"f":0}],
"zero": [{"lam":3.41,"f":0},{"lam":3.51,"f":0}],
"tTL": [{"lam":3.41527,"f":13.43,"t":"ID 10013704"},{"lam":3.41527,"f":11.93,"t":"z = 5.919"},{"lam":3.44328,"f":10.99,"t":"[OIII]5007"},{"lam":3.41527,"f":8.78,"t":"Medium"},{"lam":3.41527,"f":7.27,"t":"Resolution"}],
"tBL": [{"lam":3.44328,"f":21.87,"t":"[OIII]5007"},{"lam":3.41527,"f":15.84,"t":"High"},{"lam":3.41527,"f":13.12,"t":"Resolution"}],
"tR": [{"lam":3.43505,"f":2.99,"t":"[OIII]-subtracted"},{"lam":3.43505,"f":2.5,"t":"spectrum"}]
},
"bounds": "flush",
"columns": 2,
"spacing": {"row": 0, "column": 58.7},
"resolve": {"scale": {"color": "independent", "strokeDash": "independent"}},
"concat": [
{
 "width": 588, "height": 300,
 "encoding": {
  "x": {"field": "lam", "type": "quantitative", "scale": {"domain": [3.41, 3.51], "nice": false, "zero": false}, "axis": null},
  "y": {"field": "f", "type": "quantitative", "scale": {"domain": [-0.43, 15.03], "nice": false, "zero": false}, "axis": {"values": [0,2,4,6,8,10,12,14], "title": "Fλ[10⁻²⁰ erg s⁻¹ cm⁻² Å⁻¹]", "titlePadding": 7, "minExtent": 31, "maxExtent": 31}}
 },
 "layer": [
  {"data": {"name": "oM"}, "mark": {"type": "area", "interpolate": "step", "color": "#add8e6", "opacity": 0.55, "clip": true},
   "encoding": {"y": {"field": "lo", "type": "quantitative", "scale": {"domain": [-0.43, 15.03], "nice": false, "zero": false}, "axis": {"values": [0,2,4,6,8,10,12,14], "title": "Fλ[10⁻²⁰ erg s⁻¹ cm⁻² Å⁻¹]", "titlePadding": 7, "minExtent": 31, "maxExtent": 31}}, "y2": {"field": "hi"}}},
  {"data": {"name": "oM"}, "mark": {"type": "line", "interpolate": "step", "strokeWidth": 2, "clip": true},
   "encoding": {"color": {"datum": "observed", "type": "nominal", "scale": {"domain": ["observed", "Scaled Hα narrow prof.", "Scaled Hα broad1", "Scaled Hα broad2"], "range": ["#1f77b4", "#0000ff", "#ee82ee", "#800080"]}, "legend": {"title": null, "symbolType": "M-1.5,0H1.5"}},
                "strokeDash": {"datum": "observed", "type": "nominal", "scale": {"domain": ["observed", "Scaled Hα narrow prof.", "Scaled Hα broad1", "Scaled Hα broad2"], "range": [[1,0],[7.5,3.5],[7.5,3.5],[7.5,3.5]]}, "legend": {"title": null, "symbolType": "M-1.5,0H1.5"}}}},
  {"data": {"name": "nM"}, "mark": {"type": "line", "strokeWidth": 2, "clip": true},
   "encoding": {"color": {"datum": "Scaled Hα narrow prof.", "type": "nominal", "scale": {"domain": ["observed", "Scaled Hα narrow prof.", "Scaled Hα broad1", "Scaled Hα broad2"], "range": ["#1f77b4", "#0000ff", "#ee82ee", "#800080"]}, "legend": {"title": null, "symbolType": "M-1.5,0H1.5"}},
                "strokeDash": {"datum": "Scaled Hα narrow prof.", "type": "nominal", "scale": {"domain": ["observed", "Scaled Hα narrow prof.", "Scaled Hα broad1", "Scaled Hα broad2"], "range": [[1,0],[7.5,3.5],[7.5,3.5],[7.5,3.5]]}, "legend": {"title": null, "symbolType": "M-1.5,0H1.5"}}}},
  {"data": {"name": "b1TL"}, "mark": {"type": "line", "strokeWidth": 1.7, "clip": true},
   "encoding": {"color": {"datum": "Scaled Hα broad1", "type": "nominal", "scale": {"domain": ["observed", "Scaled Hα narrow prof.", "Scaled Hα broad1", "Scaled Hα broad2"], "range": ["#1f77b4", "#0000ff", "#ee82ee", "#800080"]}, "legend": {"title": null, "symbolType": "M-1.5,0H1.5"}},
                "strokeDash": {"datum": "Scaled Hα broad1", "type": "nominal", "scale": {"domain": ["observed", "Scaled Hα narrow prof.", "Scaled Hα broad1", "Scaled Hα broad2"], "range": [[1,0],[7.5,3.5],[7.5,3.5],[7.5,3.5]]}, "legend": {"title": null, "symbolType": "M-1.5,0H1.5"}}}},
  {"data": {"name": "b2T"}, "mark": {"type": "line", "strokeWidth": 2, "clip": true},
   "encoding": {"color": {"datum": "Scaled Hα broad2", "type": "nominal", "scale": {"domain": ["observed", "Scaled Hα narrow prof.", "Scaled Hα broad1", "Scaled Hα broad2"], "range": ["#1f77b4", "#0000ff", "#ee82ee", "#800080"]}, "legend": {"title": null, "symbolType": "M-1.5,0H1.5"}},
                "strokeDash": {"datum": "Scaled Hα broad2", "type": "nominal", "scale": {"domain": ["observed", "Scaled Hα narrow prof.", "Scaled Hα broad1", "Scaled Hα broad2"], "range": [[1,0],[7.5,3.5],[7.5,3.5],[7.5,3.5]]}, "legend": {"title": null, "symbolType": "M-1.5,0H1.5"}}}},
  {"data": {"name": "zero"}, "mark": {"type": "line", "color": "#000000", "strokeDash": [2, 4.5], "strokeWidth": 2, "clip": true}, "encoding": {}},
  {"data": {"name": "tTL"}, "mark": {"type": "text", "align": "left", "baseline": "alphabetic", "fontSize": 21.5, "color": "#000000", "font": "DejaVu Sans"}, "encoding": {"text": {"field": "t"}}}
 ]
},
{
 "width": 588, "height": 300,
 "encoding": {
  "x": {"field": "lam", "type": "quantitative", "scale": {"domain": [3.41, 3.51], "nice": false, "zero": false}, "axis": null},
  "y": {"field": "f", "type": "quantitative", "scale": {"domain": [-0.78, 4.0], "nice": false, "zero": false}, "axis": {"values": [0,1,2,3,4], "title": null, "minExtent": 31, "maxExtent": 31}}
 },
 "layer": [
  {"data": {"name": "rM"}, "mark": {"type": "area", "interpolate": "step", "color": "#add8e6", "opacity": 0.55, "clip": true},
   "encoding": {"y": {"field": "lo", "type": "quantitative", "scale": {"domain": [-0.78, 4.0], "nice": false, "zero": false}, "axis": {"values": [0,1,2,3,4], "title": null, "minExtent": 31, "maxExtent": 31}}, "y2": {"field": "hi"}}},
  {"data": {"name": "rM"}, "mark": {"type": "line", "interpolate": "step", "strokeWidth": 2, "clip": true},
   "encoding": {"color": {"datum": "Narrow=[OIII] residuals", "type": "nominal", "scale": {"domain": ["Narrow=[OIII] residuals", "Scaled Hα broad1", "Scaled Hα broad2"], "range": ["#1f77b4", "#ee82ee", "#800080"]}, "legend": {"title": null, "symbolType": "M-1.5,0H1.5"}},
                "strokeDash": {"datum": "Narrow=[OIII] residuals", "type": "nominal", "scale": {"domain": ["Narrow=[OIII] residuals", "Scaled Hα broad1", "Scaled Hα broad2"], "range": [[1,0],[7.5,3.5],[7.5,3.5]]}, "legend": {"title": null, "symbolType": "M-1.5,0H1.5"}}}},
  {"data": {"name": "b1R"}, "mark": {"type": "line", "strokeWidth": 1.7, "clip": true},
   "encoding": {"color": {"datum": "Scaled Hα broad1", "type": "nominal", "scale": {"domain": ["Narrow=[OIII] residuals", "Scaled Hα broad1", "Scaled Hα broad2"], "range": ["#1f77b4", "#ee82ee", "#800080"]}, "legend": {"title": null, "symbolType": "M-1.5,0H1.5"}},
                "strokeDash": {"datum": "Scaled Hα broad1", "type": "nominal", "scale": {"domain": ["Narrow=[OIII] residuals", "Scaled Hα broad1", "Scaled Hα broad2"], "range": [[1,0],[7.5,3.5],[7.5,3.5]]}, "legend": {"title": null, "symbolType": "M-1.5,0H1.5"}}}},
  {"data": {"name": "b2T"}, "mark": {"type": "line", "strokeWidth": 2, "clip": true},
   "encoding": {"color": {"datum": "Scaled Hα broad2", "type": "nominal", "scale": {"domain": ["Narrow=[OIII] residuals", "Scaled Hα broad1", "Scaled Hα broad2"], "range": ["#1f77b4", "#ee82ee", "#800080"]}, "legend": {"title": null, "symbolType": "M-1.5,0H1.5"}},
                "strokeDash": {"datum": "Scaled Hα broad2", "type": "nominal", "scale": {"domain": ["Narrow=[OIII] residuals", "Scaled Hα broad1", "Scaled Hα broad2"], "range": [[1,0],[7.5,3.5],[7.5,3.5]]}, "legend": {"title": null, "symbolType": "M-1.5,0H1.5"}}}},
  {"data": {"name": "zero"}, "mark": {"type": "line", "color": "#000000", "strokeDash": [2, 4.5], "strokeWidth": 2, "clip": true}, "encoding": {}},
  {"data": {"name": "tR"}, "mark": {"type": "text", "align": "center", "baseline": "alphabetic", "fontSize": 21.5, "color": "#000000", "font": "DejaVu Sans"}, "encoding": {"text": {"field": "t"}}}
 ]
},
{
 "width": 588, "height": 300,
 "encoding": {
  "x": {"field": "lam", "type": "quantitative", "scale": {"domain": [3.41, 3.51], "nice": false, "zero": false}, "axis": {"values": [3.42,3.44,3.46,3.48,3.5], "format": ".2f", "title": "λobs [μm]"}},
  "y": {"field": "f", "type": "quantitative", "scale": {"domain": [-0.835, 27.0], "nice": false, "zero": false}, "axis": {"values": [0,5,10,15,20,25], "title": "Fλ[10⁻²⁰ erg s⁻¹ cm⁻² Å⁻¹]", "titlePadding": 7, "minExtent": 31, "maxExtent": 31}}
 },
 "layer": [
  {"data": {"name": "oH"}, "mark": {"type": "area", "interpolate": "step", "color": "#add8e6", "opacity": 0.55, "clip": true},
   "encoding": {"y": {"field": "lo", "type": "quantitative", "scale": {"domain": [-0.835, 27.0], "nice": false, "zero": false}, "axis": {"values": [0,5,10,15,20,25], "title": "Fλ[10⁻²⁰ erg s⁻¹ cm⁻² Å⁻¹]", "titlePadding": 7, "minExtent": 31, "maxExtent": 31}}, "y2": {"field": "hi"}}},
  {"data": {"name": "oH"}, "mark": {"type": "line", "interpolate": "step", "strokeWidth": 2, "clip": true},
   "encoding": {"color": {"datum": "observed", "type": "nominal", "scale": {"domain": ["observed", "Scaled Hα narrow prof.", "Scaled Hα broad1", "Scaled Hα broad2"], "range": ["#1f77b4", "#0000ff", "#ee82ee", "#800080"]}, "legend": {"title": null, "symbolType": "M-1.5,0H1.5"}},
                "strokeDash": {"datum": "observed", "type": "nominal", "scale": {"domain": ["observed", "Scaled Hα narrow prof.", "Scaled Hα broad1", "Scaled Hα broad2"], "range": [[1,0],[7.5,3.5],[7.5,3.5],[7.5,3.5]]}, "legend": {"title": null, "symbolType": "M-1.5,0H1.5"}}}},
  {"data": {"name": "nH"}, "mark": {"type": "line", "strokeWidth": 2, "clip": true},
   "encoding": {"color": {"datum": "Scaled Hα narrow prof.", "type": "nominal", "scale": {"domain": ["observed", "Scaled Hα narrow prof.", "Scaled Hα broad1", "Scaled Hα broad2"], "range": ["#1f77b4", "#0000ff", "#ee82ee", "#800080"]}, "legend": {"title": null, "symbolType": "M-1.5,0H1.5"}},
                "strokeDash": {"datum": "Scaled Hα narrow prof.", "type": "nominal", "scale": {"domain": ["observed", "Scaled Hα narrow prof.", "Scaled Hα broad1", "Scaled Hα broad2"], "range": [[1,0],[7.5,3.5],[7.5,3.5],[7.5,3.5]]}, "legend": {"title": null, "symbolType": "M-1.5,0H1.5"}}}},
  {"data": {"name": "b1BL"}, "mark": {"type": "line", "strokeWidth": 1.7, "clip": true},
   "encoding": {"color": {"datum": "Scaled Hα broad1", "type": "nominal", "scale": {"domain": ["observed", "Scaled Hα narrow prof.", "Scaled Hα broad1", "Scaled Hα broad2"], "range": ["#1f77b4", "#0000ff", "#ee82ee", "#800080"]}, "legend": {"title": null, "symbolType": "M-1.5,0H1.5"}},
                "strokeDash": {"datum": "Scaled Hα broad1", "type": "nominal", "scale": {"domain": ["observed", "Scaled Hα narrow prof.", "Scaled Hα broad1", "Scaled Hα broad2"], "range": [[1,0],[7.5,3.5],[7.5,3.5],[7.5,3.5]]}, "legend": {"title": null, "symbolType": "M-1.5,0H1.5"}}}},
  {"data": {"name": "b2B"}, "mark": {"type": "line", "strokeWidth": 2, "clip": true},
   "encoding": {"color": {"datum": "Scaled Hα broad2", "type": "nominal", "scale": {"domain": ["observed", "Scaled Hα narrow prof.", "Scaled Hα broad1", "Scaled Hα broad2"], "range": ["#1f77b4", "#0000ff", "#ee82ee", "#800080"]}, "legend": {"title": null, "symbolType": "M-1.5,0H1.5"}},
                "strokeDash": {"datum": "Scaled Hα broad2", "type": "nominal", "scale": {"domain": ["observed", "Scaled Hα narrow prof.", "Scaled Hα broad1", "Scaled Hα broad2"], "range": [[1,0],[7.5,3.5],[7.5,3.5],[7.5,3.5]]}, "legend": {"title": null, "symbolType": "M-1.5,0H1.5"}}}},
  {"data": {"name": "zero"}, "mark": {"type": "line", "color": "#000000", "strokeDash": [2, 4.5], "strokeWidth": 2, "clip": true}, "encoding": {}},
  {"data": {"name": "tBL"}, "mark": {"type": "text", "align": "left", "baseline": "alphabetic", "fontSize": 21.5, "color": "#000000", "font": "DejaVu Sans"}, "encoding": {"text": {"field": "t"}}}
 ]
},
{
 "width": 588, "height": 300,
 "encoding": {
  "x": {"field": "lam", "type": "quantitative", "scale": {"domain": [3.41, 3.51], "nice": false, "zero": false}, "axis": {"values": [3.42,3.44,3.46,3.48,3.5], "format": ".2f", "title": "λobs [μm]"}},
  "y": {"field": "f", "type": "quantitative", "scale": {"domain": [-0.79, 4.0], "nice": false, "zero": false}, "axis": {"values": [0,1,2,3,4], "title": null, "minExtent": 31, "maxExtent": 31}}
 },
 "layer": [
  {"data": {"name": "rH"}, "mark": {"type": "area", "interpolate": "step", "color": "#add8e6", "opacity": 0.55, "clip": true},
   "encoding": {"y": {"field": "lo", "type": "quantitative", "scale": {"domain": [-0.79, 4.0], "nice": false, "zero": false}, "axis": {"values": [0,1,2,3,4], "title": null, "minExtent": 31, "maxExtent": 31}}, "y2": {"field": "hi"}}},
  {"data": {"name": "rH"}, "mark": {"type": "line", "interpolate": "step", "strokeWidth": 2, "clip": true},
   "encoding": {"color": {"datum": "Narrow=[OIII] residuals", "type": "nominal", "scale": {"domain": ["Narrow=[OIII] residuals", "Scaled Hα broad1", "Scaled Hα broad2"], "range": ["#1f77b4", "#ee82ee", "#800080"]}, "legend": {"title": null, "symbolType": "M-1.5,0H1.5"}},
                "strokeDash": {"datum": "Narrow=[OIII] residuals", "type": "nominal", "scale": {"domain": ["Narrow=[OIII] residuals", "Scaled Hα broad1", "Scaled Hα broad2"], "range": [[1,0],[7.5,3.5],[7.5,3.5]]}, "legend": {"title": null, "symbolType": "M-1.5,0H1.5"}}}},
  {"data": {"name": "b1R"}, "mark": {"type": "line", "strokeWidth": 1.7, "clip": true},
   "encoding": {"color": {"datum": "Scaled Hα broad1", "type": "nominal", "scale": {"domain": ["Narrow=[OIII] residuals", "Scaled Hα broad1", "Scaled Hα broad2"], "range": ["#1f77b4", "#ee82ee", "#800080"]}, "legend": {"title": null, "symbolType": "M-1.5,0H1.5"}},
                "strokeDash": {"datum": "Scaled Hα broad1", "type": "nominal", "scale": {"domain": ["Narrow=[OIII] residuals", "Scaled Hα broad1", "Scaled Hα broad2"], "range": [[1,0],[7.5,3.5],[7.5,3.5]]}, "legend": {"title": null, "symbolType": "M-1.5,0H1.5"}}}},
  {"data": {"name": "b2B"}, "mark": {"type": "line", "strokeWidth": 2, "clip": true},
   "encoding": {"color": {"datum": "Scaled Hα broad2", "type": "nominal", "scale": {"domain": ["Narrow=[OIII] residuals", "Scaled Hα broad1", "Scaled Hα broad2"], "range": ["#1f77b4", "#ee82ee", "#800080"]}, "legend": {"title": null, "symbolType": "M-1.5,0H1.5"}},
                "strokeDash": {"datum": "Scaled Hα broad2", "type": "nominal", "scale": {"domain": ["Narrow=[OIII] residuals", "Scaled Hα broad1", "Scaled Hα broad2"], "range": [[1,0],[7.5,3.5],[7.5,3.5]]}, "legend": {"title": null, "symbolType": "M-1.5,0H1.5"}}}},
  {"data": {"name": "zero"}, "mark": {"type": "line", "color": "#000000", "strokeDash": [2, 4.5], "strokeWidth": 2, "clip": true}, "encoding": {}},
  {"data": {"name": "tR"}, "mark": {"type": "text", "align": "center", "baseline": "alphabetic", "fontSize": 21.5, "color": "#000000", "font": "DejaVu Sans"}, "encoding": {"text": {"field": "t"}}}
 ]
}
]
}
